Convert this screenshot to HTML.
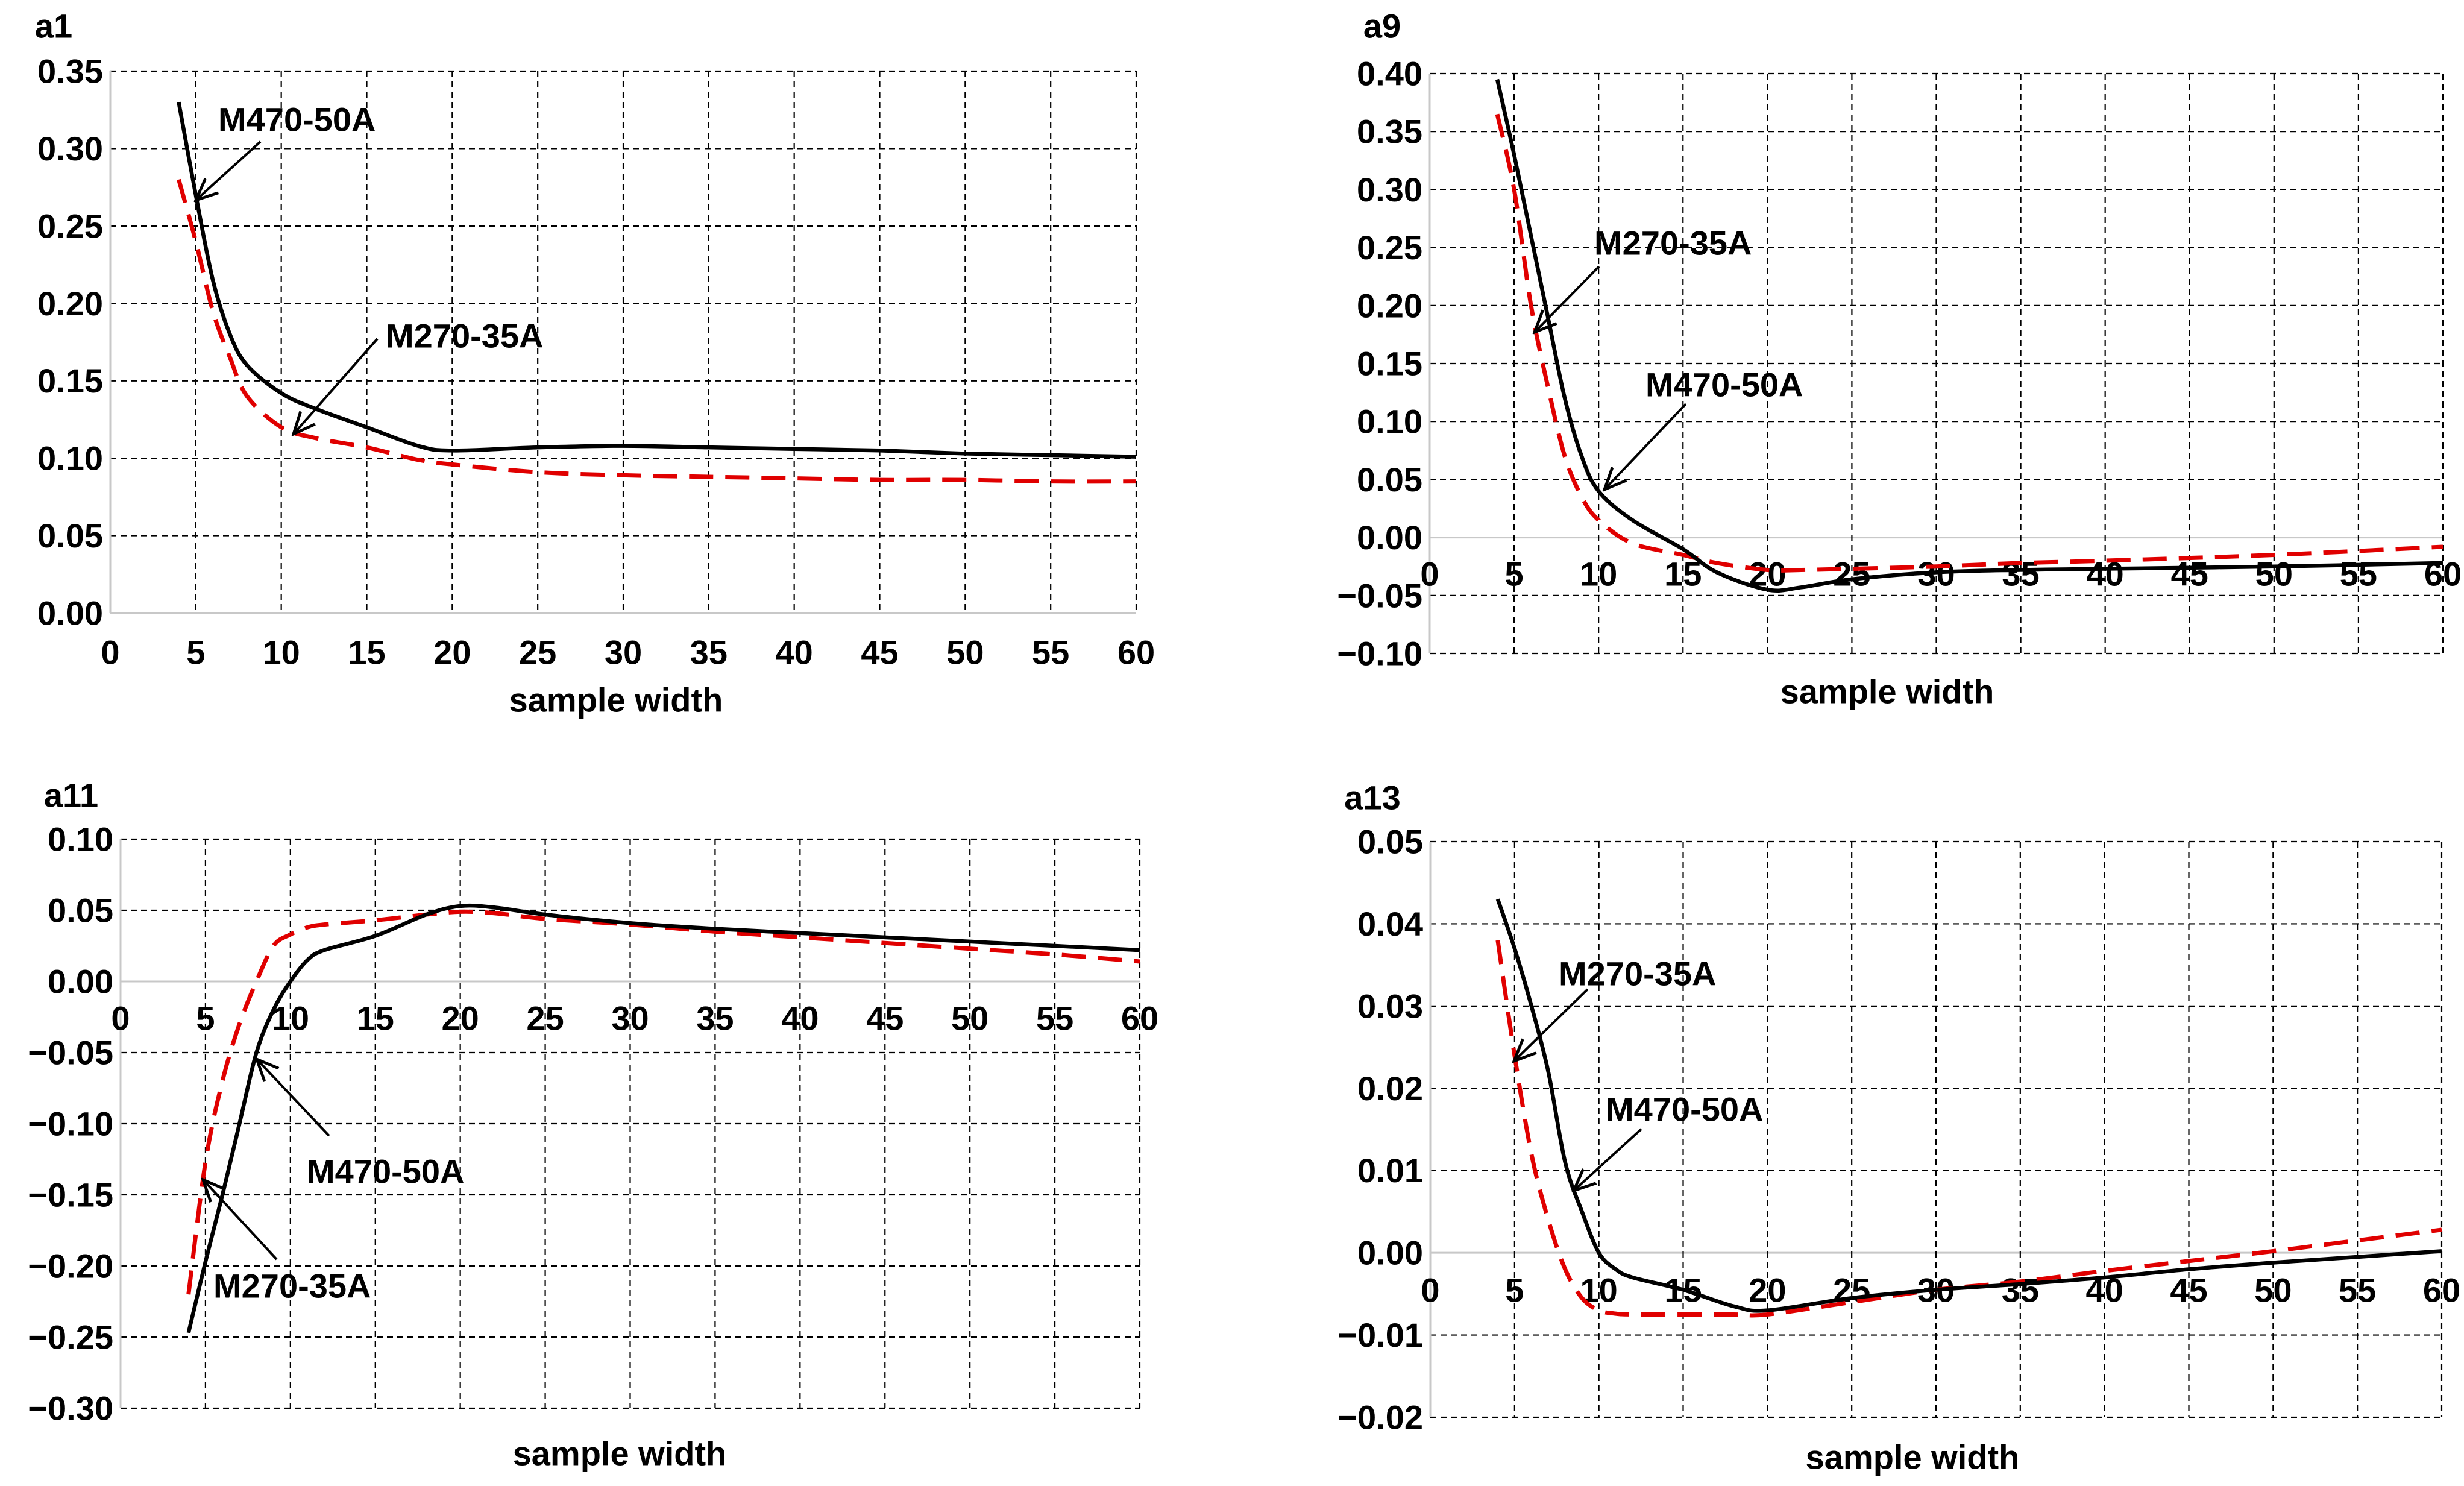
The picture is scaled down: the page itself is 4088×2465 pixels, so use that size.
<!DOCTYPE html>
<html><head><meta charset="utf-8"><style>
html,body{margin:0;padding:0;background:#fff;}
svg{display:block;}
text{font-family:"Liberation Sans Narrow","Liberation Sans",sans-serif;font-weight:bold;fill:#000;}
</style></head><body>
<svg id="root" width="4088" height="2465" viewBox="0 0 4088 2465" xmlns="http://www.w3.org/2000/svg">
<defs><marker id="ah" markerWidth="10" markerHeight="10" refX="9" refY="5" orient="auto" markerUnits="strokeWidth"><path d="M0,1 L9,5 L0,9" fill="none" stroke="#000" stroke-width="1.2"/></marker></defs>
</svg>
<script>
const xTicks=[0,5,10,15,20,25,30,35,40,45,50,55,60];
const a1X=[4,5,6,7,8,10,12,15,18,20,25,30,35,40,45,50,55,60];
const a1Black=[0.33,0.27,0.215,0.18,0.16,0.142,0.132,0.12,0.108,0.105,0.107,0.108,0.107,0.106,0.105,0.103,0.102,0.101];
const a1Red=[0.28,0.24,0.195,0.165,0.14,0.12,0.113,0.107,0.099,0.096,0.091,0.089,0.088,0.087,0.086,0.086,0.085,0.085];
const a1YTicks=[0,0.05,0.10,0.15,0.20,0.25,0.30,0.35];
const a9X=[4,5,6,7,8,9,10,12,15,17,20,22,25,30,35,40,50,60];
const a9Black=[0.395,0.33,0.26,0.19,0.12,0.07,0.04,0.015,-0.01,-0.03,-0.045,-0.043,-0.036,-0.03,-0.028,-0.027,-0.025,-0.022];
const a9Red=[0.365,0.3,0.2,0.13,0.07,0.035,0.015,-0.005,-0.015,-0.022,-0.028,-0.028,-0.027,-0.025,-0.022,-0.02,-0.015,-0.008];
const a9YTicks=[-0.10,-0.05,0,0.05,0.10,0.15,0.20,0.25,0.30,0.35,0.40];
const a11X=[4,5,6,7,8,9,10,11,12,15,18,20,22,25,30,35,40,45,50,55,60];
const a11Black=[-0.247,-0.197,-0.15,-0.1,-0.05,-0.02,0.0,0.015,0.022,0.032,0.047,0.053,0.052,0.047,0.041,0.037,0.034,0.031,0.028,0.025,0.022];
const a11Red=[-0.22,-0.127,-0.07,-0.03,0.0,0.025,0.033,0.038,0.04,0.043,0.047,0.049,0.048,0.044,0.04,0.035,0.031,0.027,0.023,0.019,0.014];
const a11YTicks=[-0.30,-0.25,-0.20,-0.15,-0.10,-0.05,0,0.05,0.10];
const a13X=[4,5,6,7,8,9,10,11,12,15,18,20,25,30,35,40,45,50,55,60];
const a13Black=[0.043,0.037,0.03,0.022,0.011,0.005,0.0,-0.002,-0.003,-0.0045,-0.0065,-0.007,-0.0055,-0.0045,-0.0038,-0.003,-0.002,-0.0012,-0.0005,0.0002];
const a13Red=[0.038,0.024,0.012,0.004,-0.002,-0.0055,-0.007,-0.0074,-0.0075,-0.0075,-0.0075,-0.0075,-0.006,-0.0045,-0.0035,-0.0022,-0.001,0.0002,0.0015,0.0028];
const a13YTicks=[-0.02,-0.01,0,0.01,0.02,0.03,0.04,0.05];

const NS="http://www.w3.org/2000/svg";
const root=document.getElementById('root');
function mk(tag,attrs,parent){const e=document.createElementNS(NS,tag);for(const k in attrs)e.setAttribute(k,attrs[k]);(parent||root).appendChild(e);return e;}
function txt(str,x,y,size,anchor,parent){const t=mk('text',{x:x,y:y,'font-size':size,'text-anchor':anchor,'dominant-baseline':'central'},parent);t.textContent=str;return t;}
function smooth(pts){let d=`M${pts[0][0]},${pts[0][1]}`;for(let i=0;i<pts.length-1;i++){const p0=pts[Math.max(0,i-1)],p1=pts[i],p2=pts[i+1],p3=pts[Math.min(pts.length-1,i+2)];const c1x=p1[0]+(p2[0]-p0[0])/6,c1y=p1[1]+(p2[1]-p0[1])/6,c2x=p2[0]-(p3[0]-p1[0])/6,c2y=p2[1]-(p3[1]-p1[1])/6;d+=` C${c1x},${c1y} ${c2x},${c2y} ${p2[0]},${p2[1]}`;}return d;}
function fmt(v,dec){let s=Math.abs(v).toFixed(dec);return (v<-1e-9?'\u22120':'')+ (v<-1e-9? s.slice(1):s);}

function panel(o){
  const g=mk('g',{});
  
  
  const xs=v=>o.L+(v-0)/60*(o.R-o.L);
  const ys=v=>o.B-(v-o.ymin)/(o.ymax-o.ymin)*(o.B-o.T);
  o.yt.forEach(v=>{
    const y=ys(v);
    const isZero=Math.abs(v)<1e-9||(o.name==='a1'&&Math.abs(v-o.ymin)<1e-9);
    const l=mk('line',{x1:o.L,x2:o.R,y1:y,y2:y,stroke:isZero?'#c8c8c8':'#000','stroke-width':isZero?3:2.2,'stroke-dasharray':isZero?'none':'10,7'},g);
    
    
    const t=txt(fmt(v,2),o.L-12,y,56,'end',g);
    
    
  });
  xTicks.forEach(v=>{
    const x=xs(v);
    const l=mk('line',{x1:x,x2:x,y1:o.T,y2:o.B,stroke:v===0?'#c8c8c8':'#000','stroke-width':v===0?3:2.2,'stroke-dasharray':v===0?'none':'10,7'},g);
    
    
    const t=txt(String(v),x,o.xlY,56,'middle',g);
    
    
  });
  const pr=mk('path',{d:smooth(o.x.map((v,i)=>[xs(v),ys(o.red[i])])),fill:'none',stroke:'#e00000','stroke-width':7,'stroke-dasharray':'40,20'},g);
  
  
  const pb=mk('path',{d:smooth(o.x.map((v,i)=>[xs(v),ys(o.black[i])])),fill:'none',stroke:'#000','stroke-width':6.5},g);
  
  
  const yl=txt(o.name,o.lab[0],o.lab[1],56,'middle',g);
  
  
  const xl=txt('sample width',o.tit[0],o.tit[1],56,'middle',g);
  
  
  o.ann.forEach(a=>{
    const t=txt(a.t,a.tx,a.ty,56,'start',g);
    
    
    const l=mk('line',{x1:a.a[0],y1:a.a[1],x2:a.a[2],y2:a.a[3],stroke:'#000','stroke-width':4,'marker-end':'url(#ah)'},g);
    
    
  });
}
panel({name:'a1',L:183,R:1885,T:118,B:1017,ymin:0,ymax:0.35,yt:a1YTicks,x:a1X,black:a1Black,red:a1Red,xlY:1082,lab:[89,43],tit:[1022,1161],
 ann:[{t:'M470-50A',tx:362,ty:198,a:[432,235,325,332]},{t:'M270-35A',tx:640,ty:557,a:[626,562,487,720]}]});
panel({name:'a9',L:2372,R:4053,T:122,B:1084,ymin:-0.10,ymax:0.40,yt:a9YTicks,x:a9X,black:a9Black,red:a9Red,xlY:952,lab:[2293,43],tit:[3131,1147],
 ann:[{t:'M270-35A',tx:2645,ty:403,a:[2653,442,2546,551]},{t:'M470-50A',tx:2730,ty:638,a:[2797,670,2662,812]}]});
panel({name:'a11',L:200,R:1891,T:1392,B:2336,ymin:-0.30,ymax:0.10,yt:a11YTicks,x:a11X,black:a11Black,red:a11Red,xlY:1689,lab:[118,1319],tit:[1028,2411],
 ann:[{t:'M470-50A',tx:509,ty:1943,a:[546,1884,426,1757]},{t:'M270-35A',tx:354,ty:2133,a:[459,2089,337,1957]}]});
panel({name:'a13',L:2373,R:4051,T:1396,B:2351,ymin:-0.02,ymax:0.05,yt:a13YTicks,x:a13X,black:a13Black,red:a13Red,xlY:2140,lab:[2277,1323],tit:[3173,2417],
 ann:[{t:'M270-35A',tx:2586,ty:1615,a:[2634,1641,2512,1760]},{t:'M470-50A',tx:2664,ty:1840,a:[2723,1873,2611,1975]}]});
</script>
</body></html>
